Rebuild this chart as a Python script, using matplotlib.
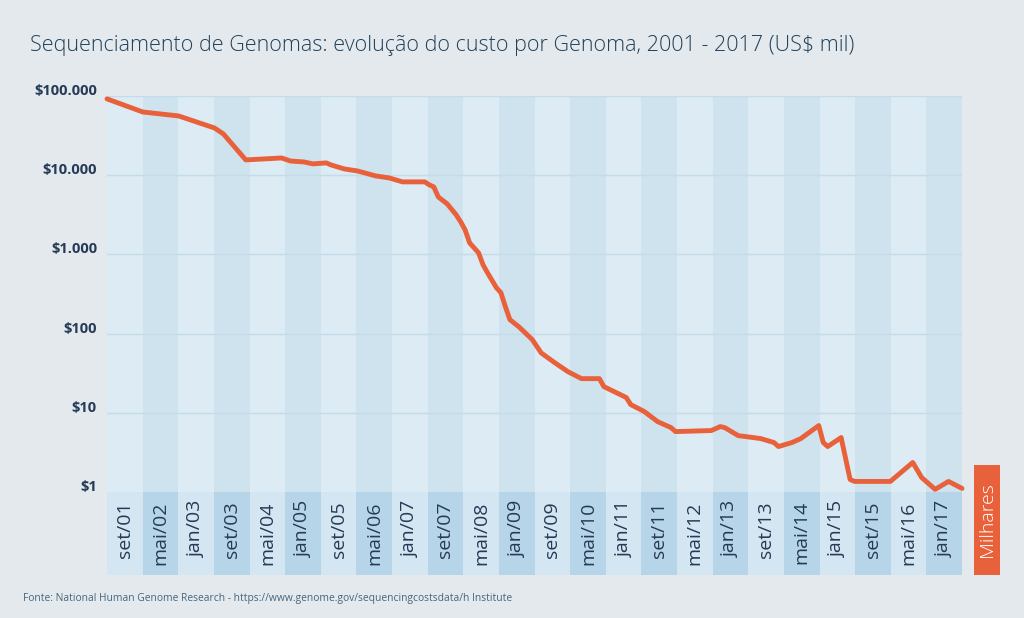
import numpy as np
import pandas as pd
import matplotlib
matplotlib.use('Agg')  # sem display
import matplotlib.pyplot as plt
import matplotlib.transforms as mtransforms
from matplotlib.patches import Rectangle

# custo por genoma, em milhares de US$
datas = ['2001-09', '2002-05', '2003-01', '2003-05', '2003-09', '2003-11',
         '2004-04', '2004-12', '2005-02', '2005-05', '2005-07', '2005-10',
         '2005-11', '2006-02', '2006-05', '2006-09', '2006-12', '2007-03',
         '2007-08', '2007-09', '2007-10', '2007-11', '2008-01', '2008-03',
         '2008-04', '2008-05', '2008-06', '2008-08', '2008-09', '2008-10',
         '2008-12', '2009-01', '2009-02', '2009-03', '2009-05', '2009-08',
         '2009-10', '2010-01', '2010-04', '2010-07', '2010-11', '2010-12',
         '2011-05', '2011-06', '2011-09', '2011-12', '2012-03', '2012-04',
         '2012-12', '2013-02', '2013-03', '2013-06', '2013-11', '2014-02',
         '2014-03', '2014-06', '2014-08', '2014-12', '2015-01', '2015-02',
         '2015-05', '2015-07', '2015-08', '2016-04', '2016-09', '2016-11',
         '2017-02', '2017-05', '2017-08']
custo_mil = [92000, 62800, 56000, 47000, 39500, 33200,
             15600, 16500, 15100, 14700, 13900, 14300,
             13500, 12000, 11300, 9800, 9250, 8240,
             8240, 7550, 7120, 5320, 4340, 3160,
             2580, 2040, 1400, 1047, 740, 586,
             379, 328, 218, 150, 122, 84,
             57, 43, 33, 27, 27, 21.4,
             15.6, 12.7, 10.4, 7.74, 6.5, 5.79,
             5.97, 6.7, 6.5, 5.15, 4.73, 4.21,
             3.75, 4.21, 4.73, 6.9, 4.21, 3.75,
             4.87, 1.44, 1.36, 1.36, 2.36, 1.52,
             1.08, 1.36, 1.11]

rotulos_x = ['set/01', 'mai/02', 'jan/03', 'set/03', 'mai/04', 'jan/05',
             'set/05', 'mai/06', 'jan/07', 'set/07', 'mai/08', 'jan/09',
             'set/09', 'mai/10', 'jan/11', 'set/11', 'mai/12', 'jan/13',
             'set/13', 'mai/14', 'jan/15', 'set/15', 'mai/16', 'jan/17']
ticks_y = [1, 10, 100, 1000, 10000, 100000]
rotulos_y = ['$1', '$10', '$100', '$1.000', '$10.000', '$100.000']

plt.rcParams['font.family'] = ['Open Sans', 'DejaVu Sans']

FUNDO = '#e3e9ed'
AZUL_ESCURO = '#263a57'
LARANJA = '#e8613a'

df = pd.DataFrame({'data': pd.to_datetime(datas), 'custo': custo_mil})
df['mes'] = (df['data'].dt.year - 2001) * 12 + df['data'].dt.month - 9

n_meses = len(rotulos_x) * 8
bordas = np.linspace(0, n_meses - 1, len(rotulos_x) + 1)
centros = (bordas[:-1] + bordas[1:]) / 2

W, H = 1024, 618
fig = plt.figure(figsize=(W / 100, H / 100), dpi=100, facecolor=FUNDO)
ax = fig.add_axes([107 / W, 1 - 492 / H, 855 / W, 396 / H])
ax_rot = fig.add_axes([107 / W, 1 - 575 / H, 855 / W, 83 / H])

# faixas alternadas
for i in range(len(rotulos_x)):
    ax.axvspan(bordas[i], bordas[i + 1], color='#dcebf4' if i % 2 == 0 else '#cfe3ef', lw=0, zorder=0)
    ax_rot.axvspan(bordas[i], bordas[i + 1], color='#d3e6f1' if i % 2 == 0 else '#b6d5e8', lw=0, zorder=0)
    ax_rot.text(centros[i], 0.89, rotulos_x[i], rotation=90, ha='center', va='top',
                fontsize=14, color=AZUL_ESCURO)

ax.set_yscale('log')
ax.set_ylim(1, 100000)
ax.set_xlim(0, n_meses - 1)
for t in ticks_y[1:]:
    ax.axhline(t, color='#c4dbea', lw=1, zorder=1)

ax.plot(df['mes'], df['custo'], color=LARANJA, lw=3.5, solid_joinstyle='round',
        solid_capstyle='round', zorder=5, clip_on=False)

trans = mtransforms.offset_copy(ax.get_yaxis_transform(), fig=fig, x=-10, y=5, units='dots')
for t, lab in zip(ticks_y, rotulos_y):
    ax.text(0, t, lab, transform=trans, ha='right', va='center',
            fontsize=10.5, fontweight='bold', color=AZUL_ESCURO)

for a in (ax, ax_rot):
    a.set_xticks([])
    a.set_yticks([])
    a.minorticks_off()
    a.patch.set_visible(False)
    for s in a.spines.values():
        s.set_visible(False)
ax_rot.set_xlim(0, n_meses - 1)
ax_rot.set_ylim(0, 1)

fig.add_artist(Rectangle((974 / W, 1 - 575 / H), 26 / W, 110 / H,
                         transform=fig.transFigure, color=LARANJA, lw=0))
fig.text(987 / W, 1 - 520 / H, 'Milhares', rotation=90, ha='center', va='center',
         fontsize=14, color='white', fontweight='light')

fig.text(30 / W, 1 - 45 / H,
         'Sequenciamento de Genomas: evolução do custo por Genoma, 2001 - 2017 (US$ mil)',
         ha='left', va='center', fontsize=15.5, color='#22415a', fontweight='light')
fig.text(23 / W, 1 - 598 / H,
         'Fonte: National Human Genome Research - https://www.genome.gov/sequencingcostsdata/h Institute',
         ha='left', va='center', fontsize=7.4, color='#45667d')

fig.savefig('out.png', dpi=100, facecolor=FUNDO)
